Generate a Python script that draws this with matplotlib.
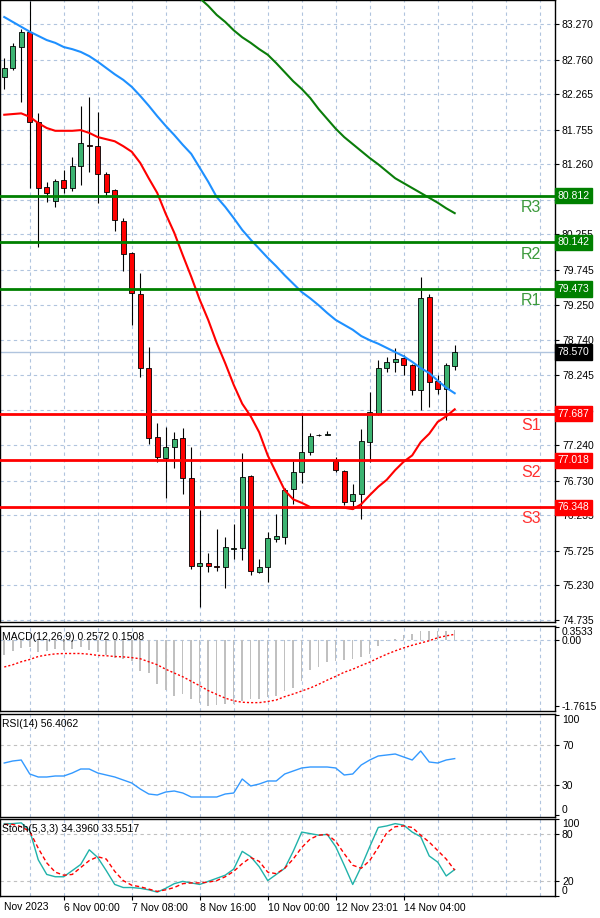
import matplotlib
matplotlib.use("Agg")
import matplotlib.pyplot as plt
import numpy as np

plt.rcParams['font.family'] = ['Liberation Sans', 'DejaVu Sans']
plt.rcParams['font.size'] = 7.5

# 4h candles, oldest first
opens = [82.511, 82.640, 82.941, 83.156, 81.866, 80.935, 80.734, 81.035, 80.921, 81.236,
         81.537, 81.522, 81.121, 80.892, 80.448, 79.989, 79.402, 78.342, 77.353, 77.052,
         77.210, 77.339, 76.766, 75.505, 75.548, 75.505, 75.491, 75.749, 75.763, 76.795,
         75.419, 75.491, 75.892, 75.921, 76.608, 76.852, 77.138, 77.375, 77.380, 77.010,
         76.866, 76.436, 76.537, 77.282, 77.683, 78.342, 78.428, 78.485, 78.385, 78.027,
         79.359, 78.156, 78.041, 78.371]
highs = [82.783, 82.998, 83.199, 83.600, 81.995, 81.007, 81.050, 81.178, 81.365, 82.095,
         82.224, 82.009, 81.150, 80.906, 80.491, 80.010, 79.703, 78.643, 77.554, 77.497,
         77.425, 77.482, 77.210, 76.307, 75.691, 76.035, 75.921, 76.107, 77.124, 76.810,
         75.605, 75.992, 76.250, 76.623, 77.010, 77.697, 77.411, 77.390, 77.440, 77.067,
         76.881, 76.680, 77.468, 77.998, 78.456, 78.499, 78.628, 78.528, 78.400, 79.646,
         79.402, 78.242, 78.413, 78.671]
lows = [82.339, 82.611, 82.153, 80.921, 80.075, 80.720, 80.648, 80.849, 80.878, 80.964,
        81.150, 80.706, 80.792, 80.305, 79.731, 78.958, 78.213, 77.253, 76.995, 76.479,
        76.909, 76.537, 75.462, 74.918, 75.419, 75.434, 75.190, 75.605, 75.591, 75.376,
        75.405, 75.276, 75.849, 75.820, 76.393, 76.694, 77.095, 77.370, 77.380, 76.852,
        76.379, 76.322, 76.178, 76.995, 77.668, 78.285, 78.285, 78.242, 77.955, 77.740,
        77.783, 77.969, 77.597, 78.313]
closes = [82.640, 82.955, 83.156, 81.866, 80.921, 80.849, 81.021, 80.921, 81.236, 81.565,
          81.522, 81.121, 80.863, 80.462, 79.975, 79.416, 78.342, 77.339, 77.067, 77.210,
          77.325, 76.766, 75.505, 75.548, 75.505, 75.491, 75.777, 75.763, 76.780, 75.434,
          75.491, 75.906, 75.935, 76.594, 76.852, 77.138, 77.368, 77.385, 77.400, 76.881,
          76.422, 76.537, 77.296, 77.711, 78.342, 78.428, 78.471, 78.385, 78.027, 79.345,
          78.141, 78.041, 78.385, 78.570]

# moving averages
ma_blue = [83.37, 83.30, 83.23, 83.16, 83.10, 83.04, 83.00, 82.94, 82.91, 82.87,
           82.81, 82.73, 82.64, 82.55, 82.47, 82.37, 82.24, 82.10, 81.95, 81.81,
           81.68, 81.54, 81.41, 81.21, 81.01, 80.79, 80.65, 80.49, 80.32, 80.18,
           80.05, 79.92, 79.80, 79.67, 79.55, 79.43, 79.34, 79.24, 79.13, 79.03,
           78.96, 78.89, 78.80, 78.74, 78.69, 78.63, 78.57, 78.51, 78.43, 78.34,
           78.27, 78.16, 78.06, 77.98]
ma_red = [81.97, 81.98, 81.99, 81.94, 81.85, 81.78, 81.74, 81.74, 81.74, 81.75,
          81.71, 81.65, 81.62, 81.59, 81.52, 81.44, 81.28, 81.06, 80.85, 80.55,
          80.28, 79.96, 79.65, 79.32, 79.03, 78.70, 78.41, 78.10, 77.83, 77.65,
          77.42, 77.09, 76.84, 76.59, 76.46, 76.41, 76.35, 76.35, 76.35, 76.35,
          76.34, 76.32, 76.39, 76.52, 76.64, 76.74, 76.88, 77.00, 77.09, 77.28,
          77.40, 77.57, 77.65, 77.75]
ma_green = [None] * 22 + [83.76, 83.64, 83.53, 83.40, 83.30, 83.18, 83.08, 83.00,
                          82.91, 82.83, 82.71, 82.58, 82.45, 82.34, 82.21, 82.05,
                          81.91, 81.77, 81.65, 81.55, 81.45, 81.35, 81.26, 81.16,
                          81.06, 80.99, 80.92, 80.85, 80.78, 80.71, 80.63, 80.56]

macd_hist = [-0.39, -0.30, -0.22, -0.20, -0.33, -0.30, -0.24, -0.27, -0.24, -0.20,
             -0.27, -0.33, -0.39, -0.48, -0.51, -0.55, -0.82, -0.89, -1.17, -1.33,
             -1.48, -1.44, -1.57, -1.69, -1.75, -1.72, -1.71, -1.71, -1.62, -1.57,
             -1.57, -1.53, -1.48, -1.37, -1.28, -1.08, -0.80, -0.73, -0.60, -0.55,
             -0.53, -0.51, -0.46, -0.37, -0.15, -0.04, 0.02, 0.12, 0.16, 0.23,
             0.23, 0.23, 0.25, 0.2572]
macd_signal = [-0.72, -0.66, -0.58, -0.52, -0.44, -0.40, -0.37, -0.36, -0.36, -0.36,
               -0.38, -0.41, -0.42, -0.44, -0.45, -0.47, -0.50, -0.58, -0.66, -0.78,
               -0.88, -0.98, -1.10, -1.22, -1.35, -1.45, -1.55, -1.62, -1.66, -1.67,
               -1.67, -1.64, -1.60, -1.51, -1.44, -1.36, -1.28, -1.18, -1.07, -0.97,
               -0.86, -0.78, -0.68, -0.59, -0.48, -0.38, -0.29, -0.21, -0.14, -0.08,
               -0.02, 0.06, 0.11, 0.1508]

rsi = [52, 54, 55, 41, 38, 38, 39, 39, 42, 46,
       46, 42, 40, 38, 35, 32, 26, 21, 20, 23,
       24, 22, 18, 18, 18, 18, 21, 22, 36, 29,
       31, 34, 34, 41, 44, 47, 48, 48, 48, 47,
       40, 41, 50, 55, 59, 60, 61, 58, 55, 64,
       53, 52, 55, 56.4062]

stoch_k = [94, 94, 95, 85, 47, 28, 25, 25, 33, 41,
           60, 50, 33, 15, 11, 11, 10, 8, 5, 10,
           16, 19, 17, 15, 19, 23, 27, 35, 58, 51,
           38, 20, 28, 36, 58, 83, 81, 79, 80, 64,
           40, 15, 38, 64, 89, 91, 94, 92, 83, 77,
           52, 44, 26, 34.3960]
stoch_d = [93, 93, 90, 84, 62, 43, 31, 27, 28, 37,
           46, 51, 48, 32, 20, 14, 12, 9, 6, 8,
           11, 16, 17, 17, 18, 20, 25, 32, 42, 50,
           45, 31, 29, 36, 48, 63, 74, 79, 80, 71,
           55, 40, 36, 46, 63, 82, 90, 91, 89, 79,
           70, 59, 48, 33.5517]

level_names = ["R3", "R2", "R1", "S1", "S2", "S3"]
level_values = [80.812, 80.142, 79.473, 77.687, 77.018, 76.348]
last_price = 78.570

price_ticks = [83.270, 82.760, 82.265, 81.755, 81.260, 80.750, 80.255, 79.745, 79.250,
               78.740, 78.245, 77.735, 77.240, 76.730, 76.235, 75.725, 75.230, 74.735]
date_labels = ["6 Nov 00:00", "7 Nov 08:00", "8 Nov 16:00", "10 Nov 00:00",
               "12 Nov 23:01", "14 Nov 04:00"]

GRID = '#b0c4de'
W, H = 600, 918
fig = plt.figure(figsize=(W / 100, H / 100), dpi=100)


def panel(top, bottom):
    ax = fig.add_axes([0, 1 - bottom / H, 555 / W, (bottom - top) / H])
    ax.set_xlim(-0.5, 64.8)
    ax.set_xticks([])
    ax.yaxis.tick_right()
    ax.tick_params(axis='y', length=3, width=0.8, pad=2, labelsize=7.5)
    for s in ax.spines.values():
        s.set_color('black')
        s.set_linewidth(1)
    for gx in range(3, 65, 4):
        ax.axvline(gx, color=GRID, lw=0.8, ls=(0, (3, 3)), zorder=0)
    return ax


x = np.arange(len(closes))
o = np.array(opens)
c = np.array(closes)

# ---- main price panel
main = panel(0, 622)
main.set_ylim(74.703, 83.614)
for p in price_ticks:
    main.axhline(p, color=GRID, lw=0.8, ls=(0, (3, 3)), zorder=0)
main.set_yticks(price_ticks)
main.set_yticklabels([f"{p:.3f}" for p in price_ticks])
main.axhline(last_price, color=GRID, lw=1, zorder=1)

cols = np.where(c >= o, '#3cb371', '#ff0000')
main.vlines(x, lows, highs, color='black', lw=0.8, zorder=3)
main.bar(x, np.abs(c - o), bottom=np.minimum(o, c), width=0.62, color=cols,
         edgecolor='black', linewidth=0.6, zorder=4)

main.plot(x, ma_blue, color='#1e90ff', lw=1.5, zorder=5)
main.plot(x, ma_red, color='#ff0000', lw=1.5, zorder=5)
main.plot(x, np.array(ma_green, dtype=float), color='#0a7d0a', lw=1.5, zorder=5)

tr = main.get_yaxis_transform()
for name, v in zip(level_names, level_values):
    line_c = '#008000' if name[0] == 'R' else '#ff0000'
    txt_c = '#3c9a3c' if name[0] == 'R' else '#ff3030'
    main.axhline(v, color=line_c, lw=2, zorder=6)
    main.text(62, v - 0.06, name, color=txt_c, fontsize=11.5, ha='center', va='top', zorder=7)
    main.text(1.004, v, f"{v:.3f}", transform=tr, ha='left', va='center', color='white',
              fontsize=7.5, bbox=dict(boxstyle='square,pad=0.25', fc=line_c, ec=line_c),
              clip_on=False, zorder=10)
main.text(1.004, last_price, f"{last_price:.3f}", transform=tr, ha='left', va='center',
          color='white', fontsize=7.5,
          bbox=dict(boxstyle='square,pad=0.25', fc='black', ec='black'),
          clip_on=False, zorder=10)

# ---- MACD
macd = panel(626, 711)
macd.set_ylim(-1.893, 0.373)
macd.axhline(0, color=GRID, lw=0.8, ls=(0, (3, 3)), zorder=0)
macd.bar(x, macd_hist, width=0.18, color='#c0c0c0', zorder=2)
macd.plot(x, macd_signal, color='#ff0000', lw=1, ls=(0, (1.5, 1.5)), zorder=3)
macd.set_yticks([0.3533, 0, -1.7615])
macd.set_yticklabels(["0.3533", "0.00", "-1.7615"])
macd.get_yticklabels()[0].set_va('top')
macd.text(0.003, 0.93, "MACD(12,26,9) 0.2572 0.1508", transform=macd.transAxes,
          ha='left', va='top', fontsize=7.5)

# ---- RSI
rs = panel(714, 817)
rs.set_ylim(-2, 101)
for lv in (70, 30):
    rs.axhline(lv, color='#c0c0c0', lw=0.8, ls=(0, (3, 3)), zorder=0)
rs.plot(x, rsi, color='#3399ff', lw=1, zorder=3)
rs.set_yticks([100, 70, 30, 0])
rs.set_yticklabels(["100", "70", "30", "0"])
rs.get_yticklabels()[0].set_va('top')
rs.get_yticklabels()[3].set_va('bottom')
rs.text(0.003, 0.95, "RSI(14) 56.4062", transform=rs.transAxes, ha='left', va='top',
        fontsize=7.5)

# ---- Stochastic
st = panel(819, 896)
st.set_ylim(0, 100)
for lv in (80, 20):
    st.axhline(lv, color='#c0c0c0', lw=0.8, ls=(0, (3, 3)), zorder=0)
st.plot(x, stoch_k, color='#20b2aa', lw=1, zorder=3)
st.plot(x, stoch_d, color='#ff0000', lw=1, ls=(0, (3, 2)), zorder=3)
st.set_yticks([100, 80, 20, 0])
st.set_yticklabels(["100", "80", "20", "0"])
st.get_yticklabels()[0].set_va('top')
st.get_yticklabels()[3].set_va('bottom')
st.text(0.003, 0.94, "Stoch(5,3,3) 34.3960 33.5517", transform=st.transAxes, ha='left',
        va='top', fontsize=7.5)

st.set_xticks(range(7, 48, 8))
st.set_xticklabels(date_labels, ha='left')
st.tick_params(axis='x', length=3, width=0.8, pad=2, labelsize=7.5)
st.text(0, -0.075, "Nov 2023", transform=st.get_xaxis_transform(), ha='left', va='top',
        fontsize=7.5)

fig.savefig("out.png", dpi=100)
